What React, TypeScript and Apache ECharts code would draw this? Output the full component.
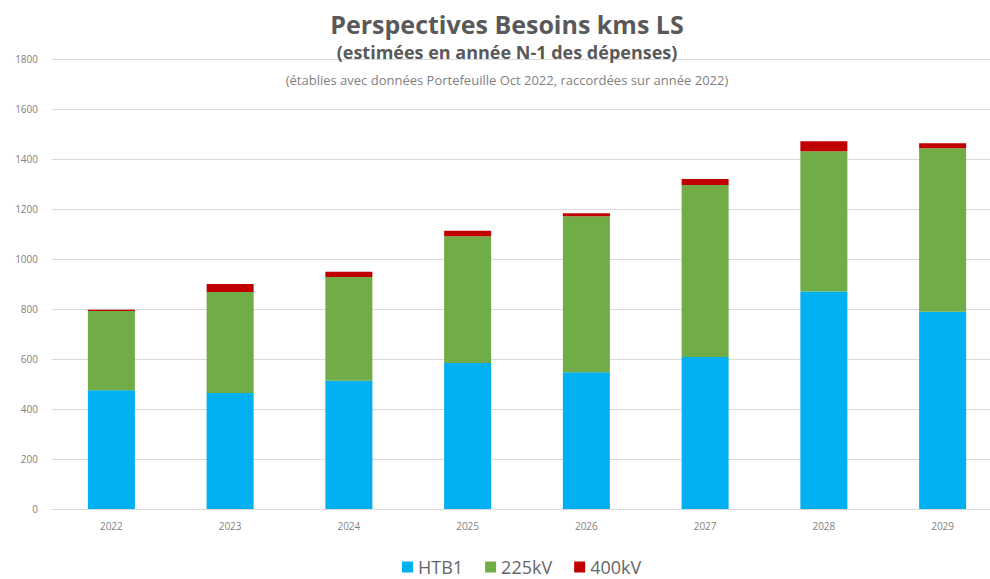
import React, { useEffect, useRef } from "react";
import * as echarts from "echarts";

const categories = ["2022", "2023", "2024", "2025", "2026", "2027", "2028", "2029"];
const htb1 = [475, 464, 513, 584, 547, 608, 870, 789];
const kv225 = [317, 404, 415, 507, 624, 688, 561, 654];
const kv400 = [5, 32, 21, 22, 12, 24, 40, 20];

const titleMain = "Perspectives Besoins kms LS";
const titleSub = "(estimées en année N-1 des dépenses)";
const titleNote = "(établies avec données Portefeuille Oct 2022, raccordées sur année 2022)";

export default function App() {
  const ref = useRef<HTMLDivElement>(null);
  useEffect(() => {
    document.body.style.margin = "0";
    if (!ref.current) return;
    const chart = echarts.init(ref.current, null, { renderer: "svg" });
    const font = "'Open Sans', 'Noto Sans', sans-serif";
    chart.setOption({
      animation: false,
      backgroundColor: "#ffffff",
      textStyle: { fontFamily: font },
      title: [
        {
          text: titleMain,
          left: 502,
          top: 6,
          textAlign: "center",
          textStyle: { fontSize: 25, fontWeight: "bold", color: "#595959", fontFamily: font },
        },
        {
          text: titleSub,
          left: 502,
          top: 38,
          textAlign: "center",
          textStyle: { fontSize: 18, fontWeight: "bold", color: "#595959", fontFamily: font },
        },
        {
          text: titleNote,
          left: 502,
          top: 68,
          textAlign: "center",
          textStyle: { fontSize: 13, fontWeight: "normal", color: "#7f7f7f", fontFamily: font },
        },
      ],
      legend: {
        top: 553,
        left: 397,
        itemWidth: 11,
        itemHeight: 11,
        itemGap: 22,
        icon: "rect",
        textStyle: { fontSize: 18, color: "#666666", fontFamily: font },
        data: ["HTB1", "225kV", "400kV"],
      },
      grid: { left: 52, top: 59, height: 450, right: 8, containLabel: false },
      xAxis: {
        type: "category",
        data: categories,
        axisLine: { show: true, lineStyle: { color: "#d9d9d9" } },
        axisTick: { show: false },
        axisLabel: { fontSize: 10, color: "#7f7f7f", margin: 12 },
      },
      yAxis: {
        type: "value",
        min: 0,
        max: 1800,
        interval: 200,
        axisLine: { show: false },
        axisTick: { show: false },
        axisLabel: { fontSize: 10, color: "#7f7f7f", margin: 14, formatter: (v: number) => String(v) },
        splitLine: { lineStyle: { color: "#d9d9d9" } },
      },
      series: [
        { name: "HTB1", type: "bar", stack: "t", data: htb1, barWidth: 47, itemStyle: { color: "#00B0F0" } },
        { name: "225kV", type: "bar", stack: "t", data: kv225, barWidth: 47, itemStyle: { color: "#70AD47" } },
        { name: "400kV", type: "bar", stack: "t", data: kv400, barWidth: 47, itemStyle: { color: "#C00000" } },
      ],
    });
    return () => chart.dispose();
  }, []);
  return (
    <div style={{ width: 990, height: 579, overflow: "hidden" }}>
      <div ref={ref} style={{ width: 1010, height: 579 }} />
    </div>
  );
}
